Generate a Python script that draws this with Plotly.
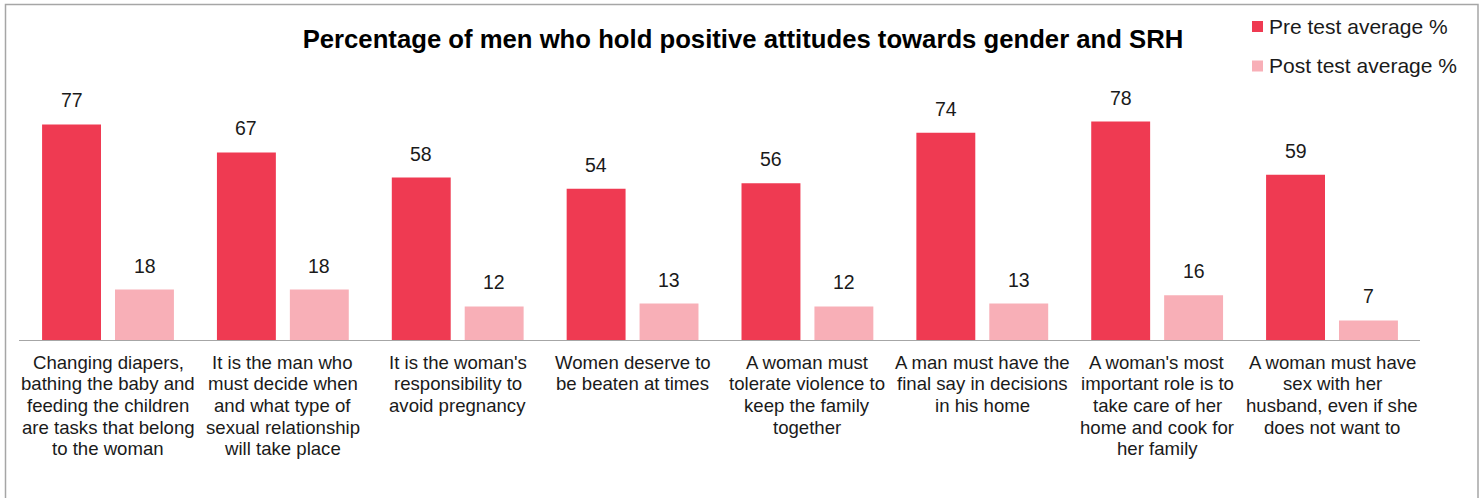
import plotly.graph_objects as go

# ---- data ----
series_names = ["Pre test average %", "Post test average %"]
pre_values = [77, 67, 58, 54, 56, 74, 78, 59]
post_values = [18, 18, 12, 13, 12, 13, 16, 7]
category_lines = [
    ["Changing diapers,", "bathing the baby and", "feeding the children",
     "are tasks that belong", "to the woman"],
    ["It is the man who", "must decide when", "and what type of",
     "sexual relationship", "will take place"],
    ["It is the woman's", "responsibility to", "avoid pregnancy"],
    ["Women deserve to", "be beaten at times"],
    ["A woman must", "tolerate violence to", "keep the family", "together"],
    ["A man must have the", "final say in decisions", "in his home"],
    ["A woman's most", "important role is to", "take care of her",
     "home and cook for", "her family"],
    ["A woman must have", "sex with her", "husband, even if she",
     "does not want to"],
]
categories = [" ".join(lines) for lines in category_lines]
title_text = "Percentage of men who hold positive attitudes towards gender and SRH"

# ---- styling ----
PRE_COLOR = "#EF3A52"
POST_COLOR = "#F8AFB7"
TEXT_COLOR = "#1a1a1a"
FONT = "Liberation Sans, Arial, sans-serif"

W, H = 1483, 498
PLOT_L, PLOT_R = 19, 1420       # plot area horizontal extent (px)
PLOT_T, PLOT_B = 60, 340        # plot area vertical extent (px)


def px_x(px):
    return (px - PLOT_L) / (PLOT_R - PLOT_L)


def px_y(py):
    return (PLOT_B - py) / (PLOT_B - PLOT_T)


fig = go.Figure()
fig.add_trace(go.Bar(name=series_names[0], x=categories, y=pre_values,
                     marker=dict(color=PRE_COLOR, line=dict(width=0)),
                     showlegend=False, hoverinfo="x+y"))
fig.add_trace(go.Bar(name=series_names[1], x=categories, y=post_values,
                     marker=dict(color=POST_COLOR, line=dict(width=0)),
                     showlegend=False, hoverinfo="x+y"))

annotations = []
# value labels above each bar
for vals, shift in ((pre_values, -36.5), (post_values, 36.5)):
    for cat, v in zip(categories, vals):
        annotations.append(dict(
            x=cat, y=v, xref="x", yref="y", text=str(v), showarrow=False,
            xshift=shift, yshift=24, yanchor="middle", xanchor="center",
            font=dict(family=FONT, size=19.5, color=TEXT_COLOR)))

# multi-line category labels under the axis
LINE_H = 21.67
FIRST_LINE = 362
for cat, lines in zip(categories, category_lines):
    for k, line in enumerate(lines):
        annotations.append(dict(
            x=cat, y=px_y(FIRST_LINE + k * LINE_H), xref="x", yref="paper",
            text=line, showarrow=False, xanchor="center", yanchor="middle",
            font=dict(family=FONT, size=18.6, color=TEXT_COLOR)))

# legend entries
shapes = []
legend_rows = [(series_names[0], PRE_COLOR, 26.5), (series_names[1], POST_COLOR, 66)]
for name, color, cy in legend_rows:
    shapes.append(dict(type="rect", xref="paper", yref="paper",
                       x0=px_x(1252), x1=px_x(1263),
                       y0=px_y(cy + 5.5), y1=px_y(cy - 5.5),
                       fillcolor=color, line=dict(width=0)))
    annotations.append(dict(
        x=px_x(1267), y=px_y(cy - 0.5), xref="paper", yref="paper", text=name,
        showarrow=False, xanchor="left", yanchor="middle",
        font=dict(family=FONT, size=21, color=TEXT_COLOR)))

# outer chart border
shapes.append(dict(type="rect", xref="paper", yref="paper",
                   x0=px_x(5.5), x1=px_x(1478), y0=px_y(520), y1=px_y(4.5),
                   line=dict(color="#A6A6A6", width=1.5), fillcolor="rgba(0,0,0,0)"))

fig.update_layout(
    width=W, height=H,
    margin=dict(l=PLOT_L, r=W - PLOT_R, t=PLOT_T, b=H - PLOT_B, pad=0),
    paper_bgcolor="white", plot_bgcolor="white",
    barmode="group", bargap=0.166, bargroupgap=0.192,
    title=dict(text=f"<b>{title_text}</b>", x=743 / W, xanchor="center",
               y=1 - 39 / H, yanchor="middle", xref="container", yref="container",
               font=dict(family=FONT, size=25.7, color="#000000")),
    xaxis=dict(showticklabels=False, ticks="", showgrid=False, zeroline=False,
               showline=True, linecolor="#A6A6A6", linewidth=1.3),
    yaxis=dict(range=[0, 100], visible=False, showgrid=False, zeroline=False),
    annotations=annotations, shapes=shapes,
    font=dict(family=FONT, color=TEXT_COLOR),
    showlegend=False,
)

fig.write_html("out.html")
